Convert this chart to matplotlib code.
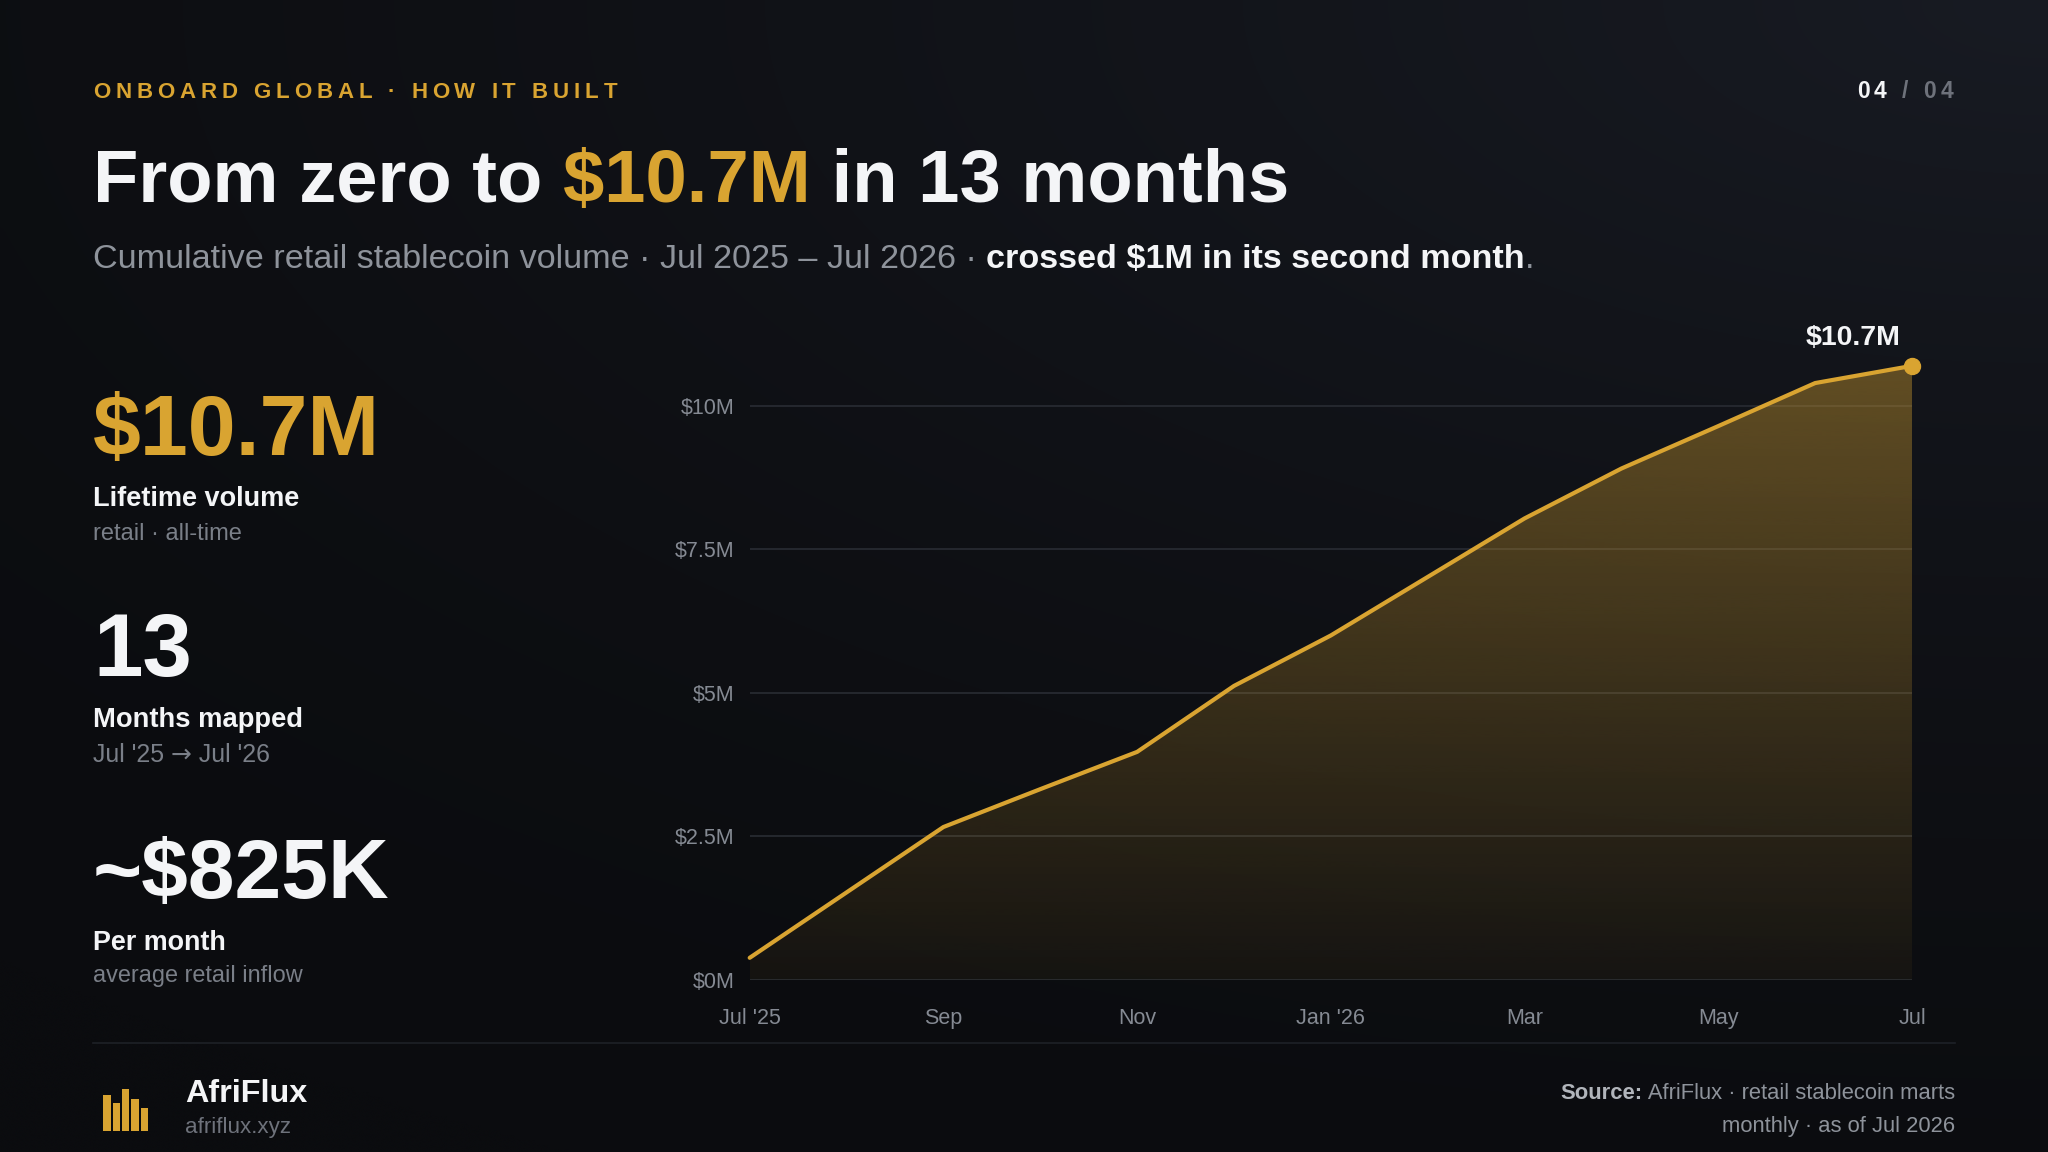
import numpy as np
import matplotlib
matplotlib.use("Agg")
import matplotlib.pyplot as plt
from matplotlib.patches import Rectangle, Polygon
from matplotlib.lines import Line2D

# ---------------- data ----------------
months = ["Jul '25", "Aug", "Sep", "Oct", "Nov", "Dec", "Jan '26",
          "Feb", "Mar", "Apr", "May", "Jun", "Jul"]
cumulative_musd = [0.38, 1.52, 2.66, 3.32, 3.97, 5.12, 6.00,
                   7.02, 8.04, 8.91, 9.65, 10.40, 10.70]
x_tick_positions = [0, 2, 4, 6, 8, 10, 12]
x_tick_labels = ["Jul '25", "Sep", "Nov", "Jan '26", "Mar", "May", "Jul"]
y_tick_values = [0, 2.5, 5, 7.5, 10]
y_tick_labels = ["$0M", "$2.5M", "$5M", "$7.5M", "$10M"]
kpi_values = ["$10.7M", "13", "~$825K"]
kpi_titles = ["Lifetime volume", "Months mapped", "Per month"]
kpi_notes = [["retail \u00b7 all-time"],
             ["Jul '25 ", "\u2192", " Jul '26"],
             ["average retail inflow"]]

# ---------------- style ----------------
GOLD = "#D9A431"
WHITE = "#F4F5F7"
GRAY = "#8E939B"
GRAY2 = "#7A7F88"
GRAY3 = "#6E727B"
GRID = "#272A31"
FONT = ["Liberation Sans", "DejaVu Sans"]
plt.rcParams["font.family"] = FONT

W, H, DPI = 2048, 1152, 100
fig = plt.figure(figsize=(W / DPI, H / DPI), dpi=DPI)
fig.patch.set_facecolor("#0c0d11")
renderer = fig.canvas.get_renderer()

# background gradient
bgax = fig.add_axes([0, 0, 1, 1], zorder=-5)
bgax.axis("off")
yy, xx = np.mgrid[0:1:240j, 0:1:420j]
d = np.sqrt(((1 - xx) * 0.8) ** 2 + (yy * 1.0) ** 2)
t = np.clip(1 - d / 1.15, 0, 1) ** 1.6
c0 = np.array([11, 12, 15]) / 255
c1 = np.array([24, 27, 35]) / 255
bg = c0 + (c1 - c0) * t[..., None]
bgax.imshow(bg, extent=[0, 1, 0, 1], aspect="auto", origin="upper", interpolation="bicubic")
bgax.set_xlim(0, 1); bgax.set_ylim(0, 1)

_cache = {}
def adv(s, size, wt, fam=None):
    fam = fam or FONT
    key = (s, round(size, 3), wt, tuple(fam))
    if key not in _cache:
        t1 = fig.text(0, 0, s + "|", fontsize=size, fontweight=wt, family=fam)
        t2 = fig.text(0, 0, "|", fontsize=size, fontweight=wt, family=fam)
        _cache[key] = t1.get_window_extent(renderer).width - t2.get_window_extent(renderer).width
        t1.remove(); t2.remove()
    return _cache[key]

def norm(runs):
    out = []
    for r in runs:
        if len(r) == 3:
            out.append((r[0], r[1], r[2], FONT))
        else:
            out.append(r)
    return out

def draw(x, y, runs, size, width=None, mode="size", ha="left", track=0.0):
    runs = norm(runs)
    if mode == "size":
        if width:
            w0 = sum(adv(s, size, wt, fam) for s, _, wt, fam in runs)
            size = size * width / w0
        total = sum(adv(s, size, wt, fam) for s, _, wt, fam in runs)
        if ha == "right":
            x -= total
        for s, col, wt, fam in runs:
            fig.text(x / W, 1 - y / H, s, fontsize=size, color=col, fontweight=wt,
                     family=fam, va="baseline", ha="left")
            x += adv(s, size, wt, fam)
    else:
        chars = [(ch, col, wt, fam) for s, col, wt, fam in runs for ch in s]
        nat = sum(adv(ch, size, wt, fam) for ch, _, wt, fam in chars)
        tr = (width - nat) / (len(chars) - 1) if width else track
        total = nat + tr * (len(chars) - 1)
        if ha == "right":
            x -= total
        for ch, col, wt, fam in chars:
            if ch != " ":
                fig.text(x / W, 1 - y / H, ch, fontsize=size, color=col, fontweight=wt,
                         family=fam, va="baseline", ha="left")
            x += adv(ch, size, wt, fam) + tr
    return size

# ---------------- header ----------------
draw(93, 98.3, [("ONBOARD GLOBAL \u00b7 HOW IT BUILT", GOLD, "bold")], 16, width=524, mode="track")
draw(1953, 98.3, [("04", WHITE, "bold"), (" / ", GRAY3, "bold"), ("04", GRAY3, "bold")],
     16.5, width=96, mode="track", ha="right")
draw(93, 202, [("From zero to ", WHITE, "bold"), ("$10.7M", GOLD, "bold"),
               (" in 13 months", WHITE, "bold")], 57, width=1196)
draw(93, 268.3, [("Cumulative retail stablecoin volume \u00b7 Jul 2025 \u2013 Jul 2026 \u00b7 ", GRAY, "normal"),
                 ("crossed $1M in its second month", WHITE, "bold"),
                 (".", GRAY, "normal")], 22, width=1439)

# ---------------- KPIs ----------------
kpi_rows = [(455.0, 505.7, 539.6), (676.3, 727.3, 762.0), (898.0, 949.8, 982.4)]
kpi_value_size = [62, 64, 60.5]
kpi_title_w = [206, 210, 133]
kpi_note_w = [149, 178, 210]
for i in range(3):
    yb_v, yb_t, yb_n = kpi_rows[i]
    draw(93, yb_v, [(kpi_values[i], GOLD if i == 0 else WHITE, "bold")], kpi_value_size[i])
    draw(93, yb_t, [(kpi_titles[i], WHITE, "bold")], 19, width=kpi_title_w[i])
    note_runs = []
    for part in kpi_notes[i]:
        if part == "\u2192":
            note_runs.append((part, GRAY2, "normal", ["DejaVu Sans"]))
        else:
            note_runs.append((part, GRAY2, "normal"))
    draw(93, yb_n, note_runs, 17, width=kpi_note_w[i])

# ---------------- chart ----------------
x0, x1 = 749.7, 1912.0
y_zero, px_per_m = 979.6, 57.36
ymax = 11.0
y_top = y_zero - ymax * px_per_m
ax = fig.add_axes([x0 / W, 1 - y_zero / H, (x1 - x0) / W, (y_zero - y_top) / H])
ax.set_facecolor("none")
for sp in ax.spines.values():
    sp.set_visible(False)

xs = np.arange(len(months))
ys = np.array(cumulative_musd)

# gradient fill under the line
grad = np.zeros((256, 1, 4))
rgb = matplotlib.colors.to_rgb(GOLD)
grad[..., 0], grad[..., 1], grad[..., 2] = rgb
grad[:, 0, 3] = np.linspace(0.05, 0.40, 256)
img = ax.imshow(grad, extent=[xs[0], xs[-1], 0, ys.max()], origin="lower",
                aspect="auto", interpolation="bicubic", zorder=1)
verts = [(xs[0], 0)] + list(zip(xs, ys)) + [(xs[-1], 0)]
clip = Polygon(verts, closed=True, facecolor="none", edgecolor="none", transform=ax.transData)
ax.add_patch(clip)
img.set_clip_path(clip)

ax.plot(xs, ys, color=GOLD, lw=3.0, solid_joinstyle="round", solid_capstyle="round",
        zorder=3, clip_on=False)
ax.plot(xs[-1], ys[-1], "o", ms=11.5, color=GOLD, zorder=4, clip_on=False)
ax.annotate(f"${ys[-1]:.1f}M", xy=(xs[-1], ys[-1]), xytext=(-8, 15), textcoords="offset points",
            ha="right", va="baseline", fontsize=20.5, fontweight="bold", color=WHITE,
            annotation_clip=False)

ax.set_xlim(xs[0], xs[-1])
ax.set_ylim(0, ymax)
ax.set_xticks(x_tick_positions, x_tick_labels)
ax.set_yticks(y_tick_values, y_tick_labels)
ax.tick_params(axis="both", length=0, labelsize=15.5, labelcolor="#858A93")
ax.tick_params(axis="y", pad=11)
ax.tick_params(axis="x", pad=20.5)
ax.yaxis.grid(True, color=GRID, lw=1.3)
ax.xaxis.grid(False)
ax.set_axisbelow(True)

# ---------------- footer ----------------
fig.add_artist(Line2D([93 / W, 1955 / W], [1 - 1043 / H, 1 - 1043 / H], color="#1E2127",
                      lw=1.2, transform=fig.transFigure))
bar_specs = [(103.3, 35.7), (112.7, 28.0), (122.0, 41.4), (131.3, 31.7), (140.7, 23.0)]
for bx, bh in bar_specs:
    fig.add_artist(Rectangle((bx / W, 1 - 1130.7 / H), 7.3 / W, bh / H, transform=fig.transFigure,
                             facecolor=GOLD, edgecolor="none"))
draw(185, 1101.7, [("AfriFlux", WHITE, "bold")], 23.5, width=122)
draw(185, 1133, [("afriflux.xyz", GRAY3, "normal")], 16, width=106)
src_size = draw(1955, 1099.3, [("Source:", "#B1B5BB", "bold"),
                               (" AfriFlux \u00b7 retail stablecoin marts", GRAY, "normal")],
                16, width=397, ha="right")
draw(1955, 1131.7, [("monthly \u00b7 as of Jul 2026", GRAY, "normal")], src_size, ha="right")

fig.savefig("out.png", dpi=DPI, facecolor=fig.get_facecolor())
